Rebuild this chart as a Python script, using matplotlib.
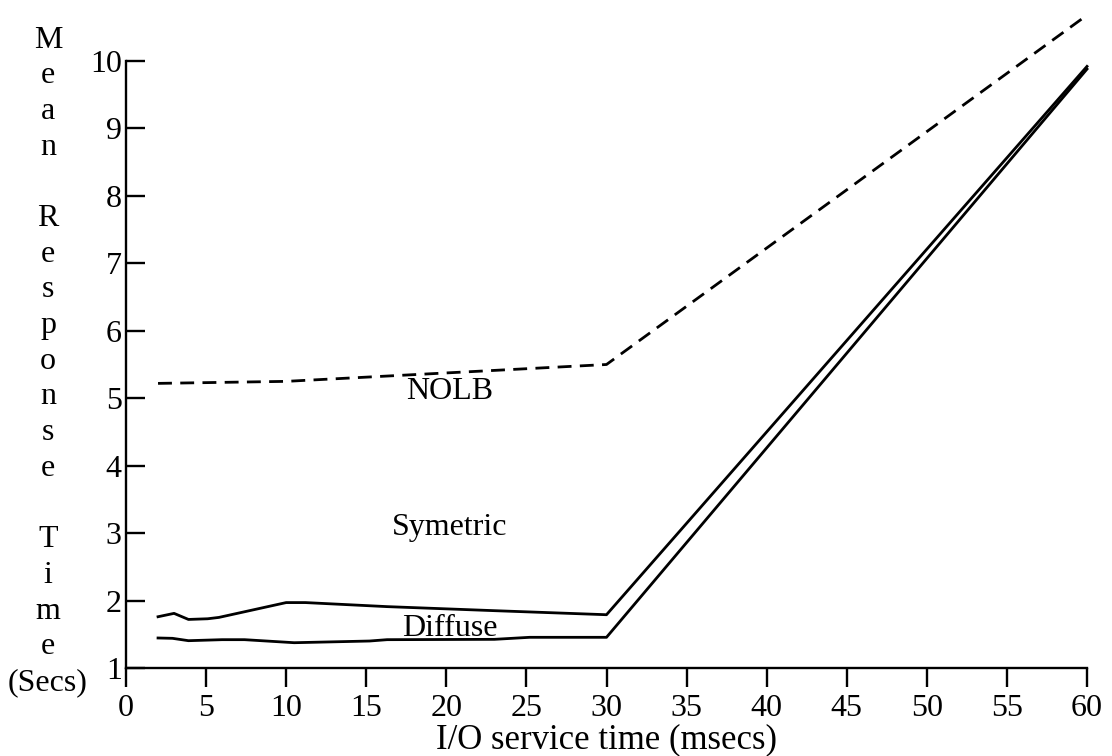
import matplotlib
matplotlib.use("Agg")
import matplotlib.pyplot as plt

# ---- data ----
x_ticks = [0, 5, 10, 15, 20, 25, 30, 35, 40, 45, 50, 55, 60]
y_ticks = [1, 2, 3, 4, 5, 6, 7, 8, 9, 10]

nolb_x = [2, 10, 30, 60]
nolb_y = [5.22, 5.25, 5.50, 10.68]

sym_x = [2, 3, 3.9, 5.1, 5.8, 10, 11.2, 16.3, 23, 30, 60]
sym_y = [1.76, 1.81, 1.72, 1.73, 1.75, 1.97, 1.97, 1.91, 1.85, 1.79, 9.92]

dif_x = [2, 2.9, 3.9, 6, 7.4, 10.5, 15.2, 16.3, 23, 25.2, 30, 60]
dif_y = [1.445, 1.44, 1.405, 1.42, 1.42, 1.375, 1.40, 1.42, 1.425, 1.455, 1.455, 9.88]

labels = {"NOLB": (20.2, 5.1), "Symetric": (20.2, 3.08), "Diffuse": (20.2, 1.58)}

ylabel_lines = ["M", "e", "a", "n", "", "R", "e", "s", "p", "o", "n", "s", "e", "",
                "T", "i", "m", "e", "(Secs)"]
xlabel = "I/O service time (msecs)"

# ---- drawing ----
plt.rcParams["font.family"] = ["Liberation Serif", "DejaVu Serif"]
FS = 23

fig = plt.figure(figsize=(11.12, 7.56), dpi=100)
ax = fig.add_axes([126 / 1112, (756 - 668) / 756, (1087 - 126) / 1112, (668 - 61) / 756])

ax.plot(nolb_x, nolb_y, color="black", lw=2.0, dashes=(5, 3), clip_on=False)
ax.plot(sym_x, sym_y, color="black", lw=2.0, clip_on=False)
ax.plot(dif_x, dif_y, color="black", lw=2.0, clip_on=False)

for txt, (tx, ty) in labels.items():
    ax.text(tx, ty, txt, fontsize=FS, ha="center", va="center")

ax.set_xlim(0, 60)
ax.set_ylim(1, 10)
ax.set_xticks(x_ticks)
ax.set_yticks(y_ticks)
ax.spines["top"].set_visible(False)
ax.spines["right"].set_visible(False)
for s in ("left", "bottom"):
    ax.spines[s].set_linewidth(1.7)
ax.tick_params(axis="x", direction="out", length=14, width=1.7, labelsize=FS, pad=5)
ax.tick_params(axis="y", direction="in", length=14, width=1.7, labelsize=FS, pad=3)

ax.set_xlabel(xlabel, fontsize=25, labelpad=0)

# stacked y label
y0 = 40
step = 35.7
for i, line in enumerate(ylabel_lines):
    if line:
        fig.text(48 / 1112, 1 - (y0 + i * step) / 756, line, fontsize=FS,
                 ha="center", va="center")

fig.savefig("out.png", dpi=100)
